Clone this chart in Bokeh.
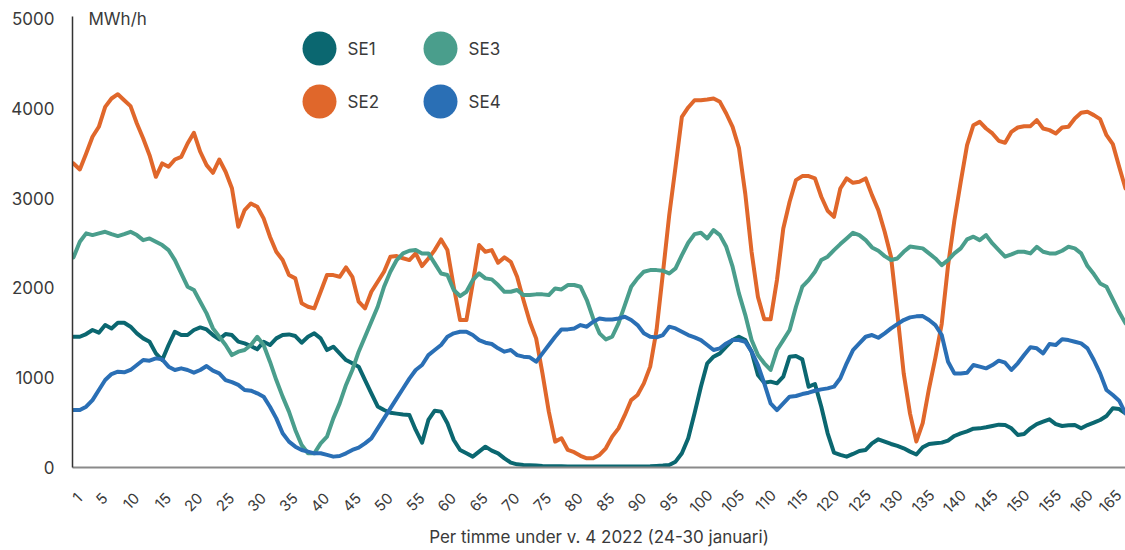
import math
from bokeh.plotting import figure
from bokeh.models import Label, FixedTicker
from bokeh.embed import file_html
from bokeh.resources import INLINE

# ---------------- data ----------------
hours = list(range(1, 168))

se1 = [1456, 1456, 1486, 1531, 1501, 1586, 1549, 1612, 1612, 1568,
       1494, 1438, 1401, 1271, 1197, 1364, 1512, 1475, 1475, 1531,
       1560, 1538, 1475, 1427, 1486, 1475, 1401, 1382, 1353, 1316,
       1401, 1364, 1438, 1475, 1482, 1464, 1390, 1456, 1494, 1438,
       1308, 1345, 1271, 1197, 1160, 1123, 974, 826, 680, 640,
       610, 600, 590, 585, 418, 277, 529, 633, 622, 492,
       306, 195, 158, 121, 177, 232, 188, 158, 102, 54,
       35, 28, 24, 21, 17, 15, 14, 13, 12, 12,
       11, 11, 10, 10, 10, 10, 10, 10, 10, 10,
       12, 14, 18, 22, 28, 65, 158, 325, 603, 900,
       1160, 1234, 1271, 1345, 1419, 1456, 1420, 1290, 1030, 944,
       956, 937, 1011, 1234, 1241, 1204, 900, 930, 677, 381,
       165, 140, 121, 151, 184, 195, 269, 314, 288, 262,
       240, 214, 177, 145, 225, 262, 269, 277, 299, 351,
       381, 403, 432, 436, 448, 462, 477, 473, 436, 362,
       373, 436, 484, 510, 536, 484, 462, 470, 473, 436,
       473, 499, 529, 573, 659, 651, 603]

se2 = [3386, 3319, 3497, 3683, 3794, 4016, 4109, 4157, 4090, 4024,
       3831, 3664, 3478, 3237, 3386, 3349, 3430, 3460, 3608, 3727,
       3516, 3367, 3282, 3430, 3293, 3110, 2681, 2866, 2940, 2903,
       2774, 2570, 2402, 2310, 2143, 2106, 1828, 1790, 1772, 1957,
       2143, 2143, 2124, 2228, 2124, 1846, 1772, 1957, 2069, 2180,
       2347, 2354, 2330, 2310, 2384, 2243, 2328, 2421, 2540, 2421,
       2013, 1642, 1642, 2050, 2477, 2402, 2421, 2280, 2340, 2291,
       2124, 1865, 1623, 1438, 1048, 622, 288, 325, 195, 170,
       130, 102, 102, 140, 214, 344, 436, 585, 751, 807,
       937, 1123, 1530, 2160, 2810, 3350, 3905, 4009, 4090, 4090,
       4098, 4109, 4072, 3942, 3794, 3560, 3050, 2400, 1900, 1650,
       1650, 2087, 2662, 2959, 3200, 3245, 3245, 3219, 3015, 2859,
       2792, 3107, 3219, 3170, 3182, 3219, 3033, 2866, 2625, 2347,
       1716, 1048, 600, 290, 495, 880, 1220, 1600, 2250, 2750,
       3180, 3590, 3812, 3849, 3775, 3720, 3638, 3616, 3738, 3786,
       3801, 3801, 3868, 3775, 3757, 3720, 3786, 3794, 3887, 3950,
       3961, 3924, 3879, 3701, 3601, 3349, 3107]

se3 = [2340, 2514, 2607, 2588, 2607, 2625, 2599, 2577, 2599, 2625,
       2588, 2532, 2551, 2514, 2477, 2421, 2310, 2161, 2013, 1976,
       1846, 1716, 1549, 1456, 1364, 1252, 1290, 1308, 1364, 1456,
       1364, 1178, 974, 789, 622, 418, 251, 158, 158, 269,
       344, 547, 714, 919, 1086, 1290, 1456, 1623, 1790, 2013,
       2180, 2310, 2384, 2414, 2421, 2384, 2384, 2273, 2161, 2143,
       1976, 1909, 1957, 2087, 2161, 2106, 2095, 2032, 1957, 1957,
       1976, 1920, 1920, 1928, 1928, 1920, 1994, 1983, 2032, 2032,
       2013, 1865, 1660, 1494, 1427, 1456, 1605, 1809, 2013, 2106,
       2180, 2198, 2198, 2191, 2161, 2217, 2365, 2503, 2599, 2614,
       2551, 2644, 2588, 2458, 2236, 1939, 1700, 1420, 1252, 1160,
       1086, 1308, 1419, 1531, 1790, 2013, 2087, 2180, 2310, 2347,
       2421, 2488, 2551, 2614, 2588, 2532, 2451, 2414, 2354, 2310,
       2328, 2402, 2460, 2451, 2440, 2384, 2328, 2254, 2310, 2384,
       2440, 2540, 2570, 2532, 2588, 2495, 2421, 2347, 2373, 2402,
       2402, 2384, 2458, 2402, 2384, 2384, 2414, 2458, 2440, 2384,
       2243, 2154, 2050, 2013, 1872, 1731, 1605]

se4 = [640, 640, 677, 751, 863, 974, 1041, 1067, 1060, 1086,
       1141, 1197, 1190, 1215, 1204, 1123, 1086, 1104, 1086, 1056,
       1086, 1130, 1078, 1049, 974, 950, 920, 863, 855, 826,
       789, 677, 547, 381, 288, 232, 195, 177, 158, 158,
       140, 121, 128, 158, 195, 221, 269, 325, 436, 547,
       659, 770, 880, 990, 1086, 1141, 1252, 1308, 1364, 1456,
       1494, 1512, 1512, 1475, 1419, 1390, 1375, 1327, 1290, 1308,
       1252, 1234, 1227, 1178, 1271, 1364, 1456, 1538, 1538, 1549,
       1586, 1568, 1623, 1660, 1649, 1649, 1660, 1679, 1642, 1586,
       1494, 1456, 1449, 1475, 1568, 1549, 1512, 1475, 1449, 1419,
       1364, 1308, 1327, 1382, 1419, 1419, 1400, 1290, 1141, 937,
       714, 640, 714, 789, 796, 818, 833, 855, 870, 881,
       900, 993, 1160, 1308, 1382, 1456, 1475, 1445, 1494, 1549,
       1597, 1642, 1672, 1683, 1686, 1642, 1586, 1475, 1178, 1048,
       1048, 1056, 1141, 1123, 1104, 1141, 1190, 1167, 1086, 1160,
       1252, 1338, 1327, 1271, 1375, 1364, 1427, 1419, 1401, 1382,
       1327, 1197, 1048, 863, 807, 744, 603]

series_names = ["SE1", "SE2", "SE3", "SE4"]
x_ticks = [1] + list(range(5, 166, 5))
y_ticks = [0, 1000, 2000, 3000, 4000, 5000]
unit_label = "MWh/h"
x_title = "Per timme under v. 4 2022 (24-30 januari)"

# ---------------- style / layout ----------------
colors = ["#0b6770", "#e0672b", "#4a9e8c", "#2a6fb5"]
FONT = "Inter"
TEXT = "#3a3a3a"

W, H = 1125, 550
LEFT, RIGHT, TOP, BOTTOM = 72, 0, 0, 83
FW, FH = W - LEFT - RIGHT, H - TOP - BOTTOM
AXIS_TOP_PX = 18                      # pixel row where 5000 sits
X0, X1 = 0.842, 167.0
Y0 = 0
Y1 = 5000 * FH / (FH - AXIS_TOP_PX)   # extra headroom for legend/unit text

p = figure(width=W, height=H, x_range=(X0, X1), y_range=(Y0, Y1),
           output_backend="svg", toolbar_location=None,
           min_border_left=LEFT, min_border_right=RIGHT,
           min_border_top=TOP, min_border_bottom=BOTTOM)
p.outline_line_color = None
p.xgrid.grid_line_color = None
p.ygrid.grid_line_color = None
p.background_fill_color = "white"
p.border_fill_color = "white"

# y axis
p.yaxis.ticker = FixedTicker(ticks=y_ticks)
p.yaxis.bounds = (0, 5025)
p.yaxis.axis_line_color = "#333333"
p.yaxis.axis_line_width = 1.5
p.yaxis.major_tick_line_color = None
p.yaxis.minor_tick_line_color = None
p.yaxis.major_label_text_font = FONT
p.yaxis.major_label_text_font_size = "17px"
p.yaxis.major_label_text_color = TEXT
p.yaxis.major_label_standoff = 12

# x axis: rotated labels, centred on their hour like the original
px_per_hour = FW / (X1 - X0)
label_shift = 9 / px_per_hour
shifted_ticks = [t + label_shift for t in x_ticks]
p.xaxis.ticker = FixedTicker(ticks=shifted_ticks)
p.xaxis.major_label_overrides = {
    st: (str(t) if t >= 100 else str(t) + "\u00a0")
    for st, t in zip(shifted_ticks, x_ticks)
}
p.xaxis.axis_line_color = "#8a8a8a"
p.xaxis.axis_line_width = 2
p.xaxis.major_tick_line_color = None
p.xaxis.minor_tick_line_color = None
p.xaxis.major_label_text_font = FONT
p.xaxis.major_label_text_font_size = "15px"
p.xaxis.major_label_text_color = TEXT
p.xaxis.major_label_orientation = math.pi / 4
p.xaxis.major_label_standoff = 19
p.xaxis.axis_label = x_title
p.xaxis.axis_label_text_font = FONT
p.xaxis.axis_label_text_font_size = "17px"
p.xaxis.axis_label_text_font_style = "normal"
p.xaxis.axis_label_text_color = TEXT
p.xaxis.axis_label_standoff = 0

# lines
for vals, c in zip([se1, se2, se3, se4], colors):
    p.line(hours, vals, line_color=c, line_width=4, line_join="round", line_cap="round")

# legend (manual, positioned in page pixels)
def px_to_x(px):
    return X0 + (px - LEFT) * (X1 - X0) / FW

def py_to_y(py):
    return Y0 + ((TOP + FH) - py) * (Y1 - Y0) / FH

leg_pos = [(319, 48), (319, 101), (440, 48), (440, 101)]
p.scatter([px_to_x(a) for a, b in leg_pos], [py_to_y(b) for a, b in leg_pos],
          size=34, color=colors, line_color=None)
for (a, b), name in zip(leg_pos, series_names):
    p.add_layout(Label(x=a + 28 - LEFT, y=(TOP + FH) - b,
                       x_units="screen", y_units="screen", text=name,
                       text_font=FONT, text_font_size="17px", text_color=TEXT,
                       text_baseline="middle", text_align="left"))

# unit label
p.add_layout(Label(x=88 - LEFT, y=(TOP + FH) - 18, x_units="screen", y_units="screen",
                   text=unit_label, text_font=FONT, text_font_size="17px",
                   text_color=TEXT, text_baseline="middle", text_align="left"))

open("out.html", "w").write(file_html(p, INLINE))
